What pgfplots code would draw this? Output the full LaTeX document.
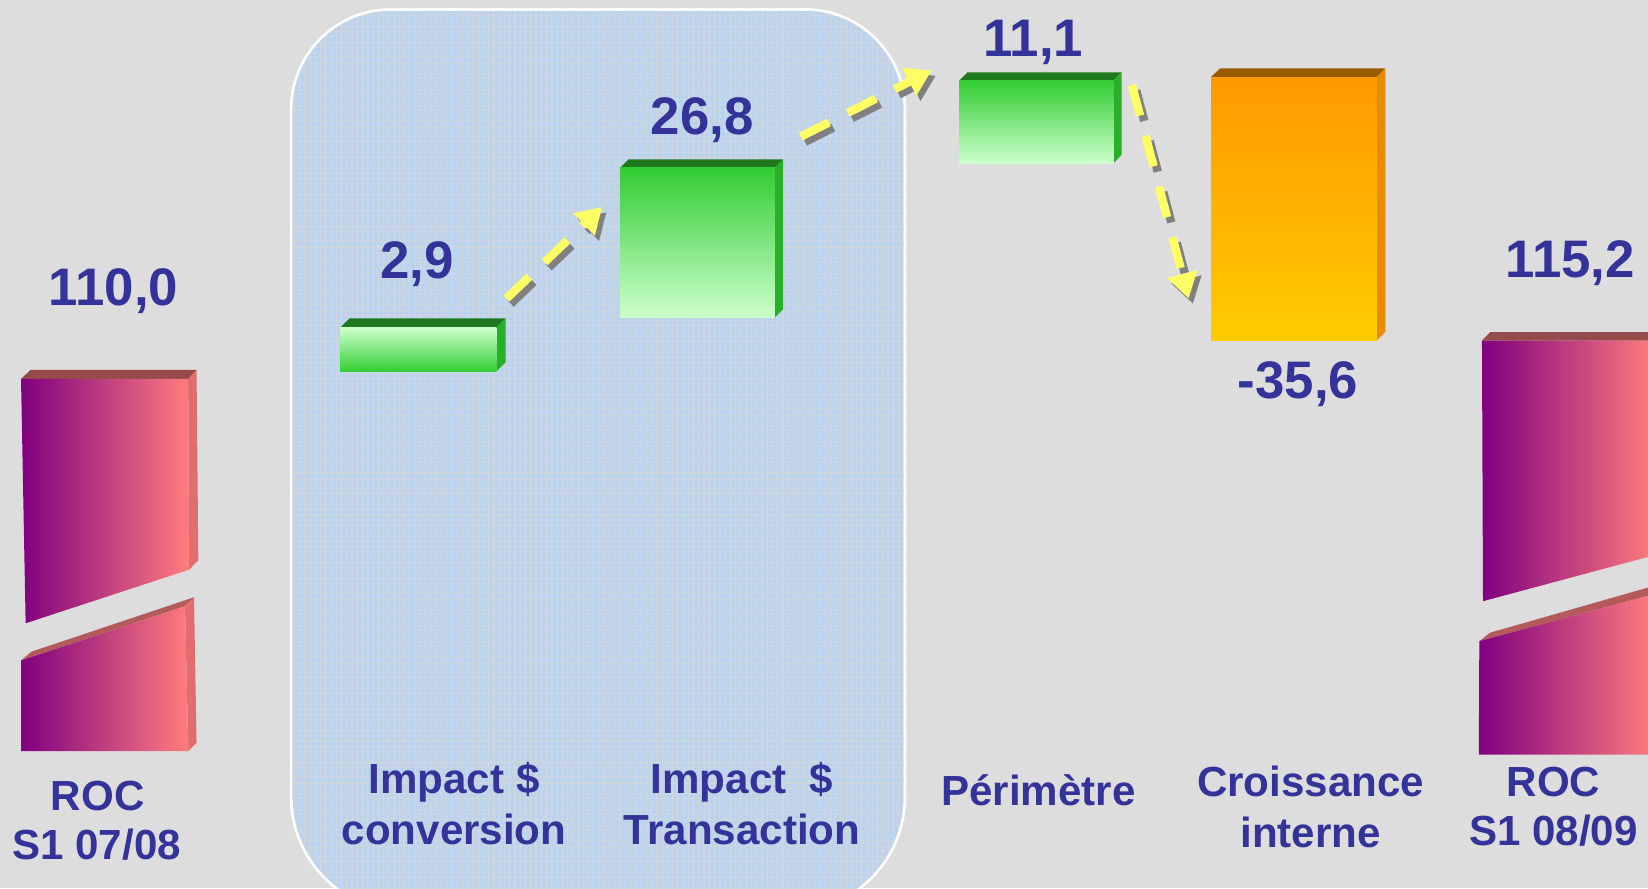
\documentclass[border=0pt]{standalone}
\usepackage{pgfplots}
\pgfplotsset{compat=1.18}
\usetikzlibrary{arrows.meta,patterns.meta}
\usepackage{fontspec}
\setmainfont{Liberation Sans}
\definecolor{bg}{RGB}{221,221,221}
\definecolor{txt}{RGB}{51,51,153}
\definecolor{panel}{RGB}{188,211,238}
\definecolor{panelgrid}{RGB}{206,214,224}
\definecolor{gdark}{RGB}{50,205,50}
\definecolor{glight}{RGB}{204,255,204}
\definecolor{gtop}{RGB}{30,120,30}
\definecolor{gside}{RGB}{42,175,42}
\definecolor{otop}{RGB}{255,153,0}
\definecolor{obot}{RGB}{255,204,0}
\definecolor{otopface}{RGB}{153,90,0}
\definecolor{oside}{RGB}{230,140,0}
\definecolor{rpurple}{RGB}{128,0,128}
\definecolor{rmid}{RGB}{210,95,130}
\definecolor{rpink}{RGB}{255,125,125}
\definecolor{rtop}{RGB}{150,75,75}
\definecolor{rtop2}{RGB}{180,90,90}
\definecolor{rside}{RGB}{225,110,110}
\definecolor{ayellow}{RGB}{255,255,102}
\definecolor{ashadow}{RGB}{128,128,128}
\begin{document}
\begin{tikzpicture}
\begin{axis}[scale only axis, width=15.68cm, height=8.45cm,
  xmin=0, xmax=1568, ymin=0, ymax=845, hide axis, clip=true]
\coordinate (SW) at (rel axis cs:0,0);
\coordinate (NE) at (rel axis cs:1,1);
\fill[bg] (rel axis cs:0,0) rectangle (rel axis cs:1,1);
% panel
\def\panelpath{(axis cs:277,87) -- (axis cs:277,741)
  arc[start angle=180, end angle=90, radius=9.5mm] -- (axis cs:766,836)
  arc[start angle=90, end angle=0, radius=9.5mm] -- (axis cs:861,87)
  arc[start angle=0, end angle=-90, radius=11mm] -- (axis cs:387,-23)
  arc[start angle=270, end angle=180, radius=11mm] -- cycle}
\fill[panel] \panelpath;
\fill[pattern={Lines[angle=0,distance=0.5mm,line width=0.1mm]}, pattern color=panelgrid] \panelpath;
\fill[pattern={Lines[angle=90,distance=0.5mm,line width=0.1mm]}, pattern color=panelgrid] \panelpath;
\draw[white, line width=0.25mm] \panelpath;

% ROC S1 07/08 (110,0) - broken bar
\addplot[draw=none, fill=rtop] coordinates {(20,484.4) (179,484.4) (187,493) (29,493)};
\addplot[draw=none, fill=rside] coordinates {(179,484.4) (187,493) (188.7,312) (180,303)};
\addplot[draw=none, left color=rpurple, middle color=rmid, right color=rpink] coordinates {(20,484.4) (179,484.4) (180,303) (24.4,252)};
\addplot[draw=none, fill=rtop2] coordinates {(20,216.6) (176,268.2) (184.6,276.7) (30,225)};
\addplot[draw=none, fill=rside] coordinates {(176,268.2) (184.6,276.7) (187,138.2) (179.2,130.4)};
\addplot[draw=none, left color=rpurple, middle color=rmid, right color=rpink] coordinates {(20,216.6) (176,268.2) (179.2,130.4) (20,130.4)};

% Impact $ conversion (2,9)
\addplot[draw=none, fill=gtop] coordinates {(323.7,533.2) (472.2,533.2) (481,542) (332.5,542)};
\addplot[draw=none, fill=gside] coordinates {(472.2,533.2) (481,542) (481,500.2) (472.2,491.4)};
\addplot[draw=none, top color=glight, bottom color=gdark] coordinates {(323.7,491.4) (472.2,491.4) (472.2,533.2) (323.7,533.2)};

% Impact $ Transaction (26,8)
\addplot[draw=none, fill=gtop] coordinates {(590,685.5) (737,685.5) (745,693.4) (598,693.4)};
\addplot[draw=none, fill=gside] coordinates {(737,685.5) (745,693.4) (745,550.6) (737,542.7)};
\addplot[draw=none, top color=gdark, bottom color=glight] coordinates {(590,542.7) (737,542.7) (737,685.5) (590,685.5)};

% Perimetre (11,1)
\addplot[draw=none, fill=gtop] coordinates {(912.5,768) (1059.3,768) (1067.2,776.2) (920.5,776.2)};
\addplot[draw=none, fill=gside] coordinates {(1059.3,768) (1067.2,776.2) (1067.2,697.8) (1059.3,689.6)};
\addplot[draw=none, top color=gdark, bottom color=glight] coordinates {(912.5,689.6) (1059.3,689.6) (1059.3,768) (912.5,768)};

% Croissance interne (-35,6)
\addplot[draw=none, fill=otopface] coordinates {(1152.2,771.7) (1310,771.7) (1318,780) (1161,780)};
\addplot[draw=none, fill=oside] coordinates {(1310,771.7) (1318,780) (1318,529.2) (1310,520.9)};
\addplot[draw=none, top color=otop, bottom color=obot] coordinates {(1152.2,520.9) (1310,520.9) (1310,771.7) (1152.2,771.7)};

% ROC S1 08/09 (115,2) - broken bar
\addplot[draw=none, fill=rtop] coordinates {(1410,521) (1575,521) (1575,529) (1418,529)};
\addplot[draw=none, left color=rpurple, middle color=rmid, right color=rpink] coordinates {(1410,521) (1575,521) (1575,317) (1411,273)};
\addplot[draw=none, fill=rtop2] coordinates {(1407.5,235) (1575,280) (1575,288) (1417.7,243)};
\addplot[draw=none, left color=rpurple, middle color=rmid, right color=rpink] coordinates {(1407.5,235) (1575,280) (1575,127) (1407,127)};

% arrows (shadow then yellow)
\addplot[ashadow, line width=0.8mm, dash pattern=on 3mm off 2mm, -{Triangle[length=2.4mm,width=2.8mm]}] coordinates {(486,556) (577,643)};
\addplot[ayellow, line width=0.8mm, dash pattern=on 3mm off 2mm, -{Triangle[length=2.4mm,width=2.8mm]}] coordinates {(482,561) (573,648)};
\addplot[ashadow, line width=0.8mm, dash pattern=on 3mm off 2mm, -{Triangle[length=2.4mm,width=2.8mm]}] coordinates {(766,710) (890.5,773)};
\addplot[ayellow, line width=0.8mm, dash pattern=on 3mm off 2mm, -{Triangle[length=2.4mm,width=2.8mm]}] coordinates {(762,715) (886.5,778)};
\addplot[ashadow, line width=0.8mm, dash pattern=on 3mm off 2mm, -{Triangle[length=2.4mm,width=2.8mm]}] coordinates {(1081,759) (1135,556)};
\addplot[ayellow, line width=0.8mm, dash pattern=on 3mm off 2mm, -{Triangle[length=2.4mm,width=2.8mm]}] coordinates {(1077,764) (1131,561)};

% value labels
\tikzset{val/.style={anchor=base, inner sep=0pt, text=txt, font=\fontsize{14.3}{16}\selectfont\bfseries},
         lab/.style={anchor=base, inner sep=0pt, text=txt, font=\fontsize{11.4}{13.5}\selectfont\bfseries}}
\node[val] at (axis cs:108,554.8) {110,0};
\node[val] at (axis cs:397,580.2) {2,9};
\node[val] at (axis cs:668,716.6) {26,8};
\node[val] at (axis cs:983,791.1) {11,1};
\node[val] at (axis cs:1235,466) {-35,6};
\node[val] at (axis cs:1494,581) {115,2};

% category labels
\node[lab] at (axis cs:93,73.7) {ROC};
\node[lab] at (axis cs:92,27.4) {S1 07/08};
\node[lab] at (axis cs:432,90.2) {Impact \$};
\node[lab] at (axis cs:432,41.7) {conversion};
\node[lab] at (axis cs:706,90.2) {Impact\ \ \$};
\node[lab] at (axis cs:706,41.7) {Transaction};
\node[lab] at (axis cs:988,79) {Périmètre};
\node[lab] at (axis cs:1247,87) {Croissance};
\node[lab] at (axis cs:1247,38.8) {interne};
\node[lab] at (axis cs:1478,87) {ROC};
\node[lab] at (axis cs:1478,40.7) {S1 08/09};
\end{axis}
\pgfresetboundingbox
\path (SW) rectangle (NE);
\end{tikzpicture}
\end{document}
